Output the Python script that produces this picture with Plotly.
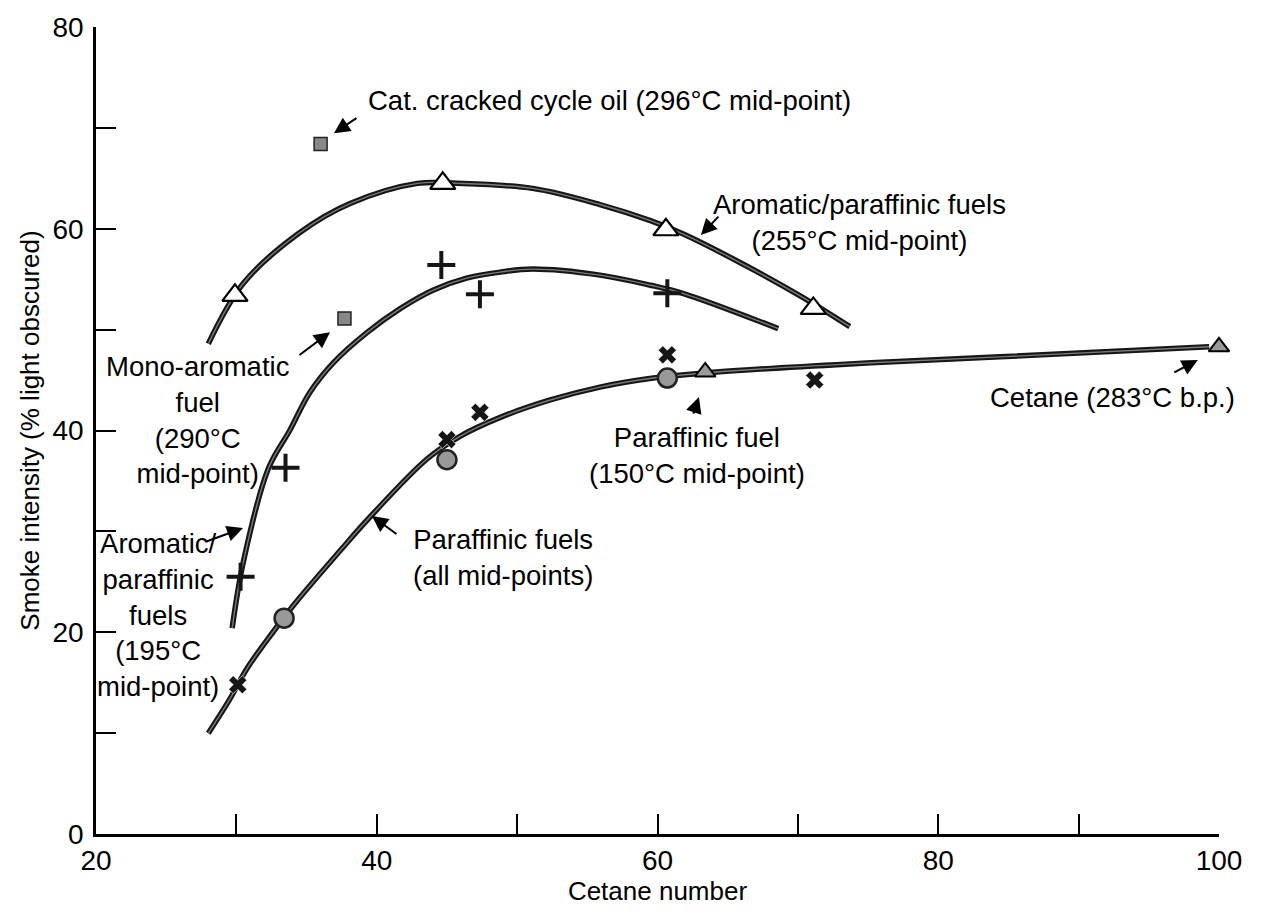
import plotly.graph_objects as go

# ---------------- data ----------------
# Aromatic/paraffinic fuels (255°C mid-point) – curve and open triangles
c255_x = [28.0, 30.5, 34.5, 38.1, 42.9, 45.7, 51.1, 55.9, 59.5, 61.8, 65.4, 70.1, 73.7]
c255_y = [48.6, 54.6, 59.6, 62.5, 64.5, 64.5, 64.0, 62.4, 60.8, 59.5, 57.0, 53.4, 50.3]
tri255_x = [29.9, 44.7, 60.6, 71.1]
tri255_y = [53.4, 64.5, 59.9, 52.1]

# Aromatic/paraffinic fuels (195°C) – middle curve and plus markers
mid_x = [29.7, 30.5, 32.3, 33.8, 35.2, 36.9, 39.3, 41.7, 44.0, 46.4, 48.8,
         51.1, 55.9, 59.5, 61.8, 68.6]
mid_y = [20.4, 27.0, 36.3, 40.0, 43.7, 46.7, 49.7, 52.1, 53.9, 55.1, 55.7,
         56.0, 55.4, 54.4, 53.6, 50.1]
plus_x = [30.3, 33.5, 44.6, 47.35, 60.7]
plus_y = [25.5, 36.3, 56.4, 53.5, 53.6]

# Paraffinic fuels (all mid-points) – lower curve
low_x = [28.0, 29.5, 30.8, 32.6, 34.2, 37.4, 39.5, 43.6, 45.9, 48.8, 52.3, 55.9, 59.7,
         64.2, 73.7, 84.4, 99.3]
low_y = [10.0, 13.3, 16.5, 20.0, 22.9, 28.1, 31.4, 37.2, 39.4, 41.3, 43.0, 44.3, 45.2,
         45.8, 46.6, 47.3, 48.3]
circ_x = [33.4, 45.0, 60.7]
circ_y = [21.4, 37.1, 45.2]
xm_x = [30.1, 45.0, 47.35, 60.7, 71.2]
xm_y = [14.8, 39.1, 41.8, 47.5, 45.0]

# Single fuels
sq_x = [36.0, 37.7]          # cat. cracked cycle oil, mono-aromatic fuel
sq_y = [68.4, 51.1]
gtri_x = [63.4, 100.0]       # paraffinic fuel 150°C, cetane
gtri_y = [45.8, 48.3]

x_ticks = [20, 30, 40, 50, 60, 70, 80, 90, 100]
x_ticktext = ["20", "", "40", "", "60", "", "80", "", "100"]
y_ticks = [0, 10, 20, 30, 40, 50, 60, 70, 80]
y_ticktext = ["0", "", "20", "", "40", "", "60", "", "80"]

# ---------------- figure ----------------
LBL = "Liberation Sans, Arial, sans-serif"
AX = "Liberation Sans, Arial, sans-serif"

fig = go.Figure()


def curve(xs, ys):
    fig.add_trace(go.Scatter(x=xs, y=ys, mode="lines",
                             line=dict(color="#161616", width=5.5, shape="spline"),
                             hoverinfo="skip", showlegend=False))
    fig.add_trace(go.Scatter(x=xs, y=ys, mode="lines",
                             line=dict(color="#7a7a7a", width=1.4, shape="spline"),
                             hoverinfo="skip", showlegend=False))


curve(c255_x, c255_y)
curve(mid_x, mid_y)
curve(low_x, low_y)

fig.add_trace(go.Scatter(x=tri255_x, y=tri255_y, mode="markers", cliponaxis=False,
                         marker=dict(symbol="triangle-up", size=22, color="white",
                                     line=dict(color="black", width=2.2)),
                         showlegend=False))
fig.add_trace(go.Scatter(x=plus_x, y=plus_y, mode="markers", cliponaxis=False,
                         marker=dict(symbol="cross-thin", size=20, color="#161616",
                                     line=dict(color="#161616", width=4)),
                         showlegend=False))
fig.add_trace(go.Scatter(x=circ_x, y=circ_y, mode="markers", cliponaxis=False,
                         marker=dict(symbol="circle", size=19, color="#999999",
                                     line=dict(color="#222", width=2.5)),
                         showlegend=False))
fig.add_trace(go.Scatter(x=xm_x, y=xm_y, mode="markers", cliponaxis=False,
                         marker=dict(symbol="x", size=16, color="#161616",
                                     line=dict(color="white", width=0.6)),
                         showlegend=False))
fig.add_trace(go.Scatter(x=sq_x, y=sq_y, mode="markers", cliponaxis=False,
                         marker=dict(symbol="square", size=13, color="#888888",
                                     line=dict(color="#222", width=1.5)),
                         showlegend=False))
fig.add_trace(go.Scatter(x=gtri_x, y=gtri_y, mode="markers", cliponaxis=False,
                         marker=dict(symbol="triangle-up", size=18, color="#999999",
                                     line=dict(color="black", width=2)),
                         showlegend=False))

# text labels
labels = [
    (39.2, 72.7, "Cat. cracked cycle oil (296°C mid-point)", "left"),
    (74.4, 60.6, "Aromatic/paraffinic fuels<br>(255°C mid-point)", "center"),
    (27.3, 41.0, "Mono-aromatic<br>fuel<br>(290°C<br>mid-point)", "center"),
    (24.4, 21.7, "Aromatic/<br>paraffinic<br>fuels<br>(195°C<br>mid-point)", "center"),
    (49.0, 27.4, "Paraffinic fuels<br>(all mid-points)", "center"),
    (62.8, 37.5, "Paraffinic fuel<br>(150°C mid-point)", "center"),
    (92.4, 43.3, "Cetane (283°C b.p.)", "center"),
]
for x, y, t, xa in labels:
    fig.add_annotation(x=x, y=y, text=t, showarrow=False,
                       xanchor=xa, yanchor="middle", align="center",
                       font=dict(family=LBL, size=27.5, color="black"))

# arrows: (tail_x, tail_y, head_x, head_y)
arrows = [
    (38.66, 71.06, 36.95, 69.47),
    (64.44, 61.35, 63.09, 59.37),
    (34.39, 47.37, 36.67, 49.75),
    (27.76, 28.94, 30.47, 30.33),
    (41.51, 29.63, 39.66, 31.52),
    (62.52, 41.53, 62.95, 43.31),
    (96.71, 45.69, 98.49, 46.98),
]
for tx, ty, hx, hy in arrows:
    fig.add_annotation(x=hx, y=hy, ax=tx, ay=ty, xref="x", yref="y",
                       axref="x", ayref="y", text="", showarrow=True,
                       arrowhead=2, arrowsize=1.6, arrowwidth=2, arrowcolor="black")

fig.update_layout(
    width=1263, height=910,
    margin=dict(l=88, r=52, t=19, b=84),
    plot_bgcolor="white", paper_bgcolor="white",
    showlegend=False,
    font=dict(family=AX, size=28, color="black"),
)
fig.update_xaxes(range=[20, 100], showgrid=False, zeroline=False, automargin=False,
                 showline=True, linecolor="black", linewidth=2.5,
                 ticks="inside", ticklen=20, tickwidth=2, tickcolor="black",
                 tickvals=x_ticks, ticktext=x_ticktext,
                 tickfont=dict(family=AX, size=28, color="black"),
                 title=dict(text="Cetane number", standoff=2,
                            font=dict(family=AX, size=26, color="black")))
fig.update_yaxes(range=[0, 80], showgrid=False, zeroline=False, automargin=False,
                 showline=True, linecolor="black", linewidth=2.5,
                 ticks="inside", ticklen=20, tickwidth=2, tickcolor="black",
                 tickvals=y_ticks, ticktext=y_ticktext, ticklabelstandoff=4,
                 tickfont=dict(family=AX, size=28, color="black"),
                 title=dict(text="Smoke intensity (% light obscured)", standoff=6,
                            font=dict(family=AX, size=26, color="black")))

fig.write_html("out.html")
